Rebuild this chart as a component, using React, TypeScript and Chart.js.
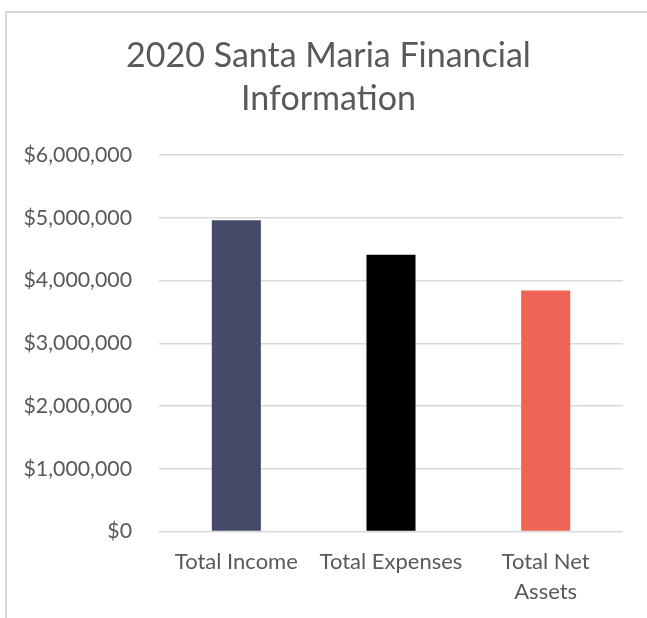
import React, { useEffect, useRef } from "react";
import { Chart, registerables } from "chart.js";

Chart.register(...registerables);

const categories: (string | string[])[] = ["Total Income", "Total Expenses", ["Total Net", "Assets"]];
const values: number[] = [4960000, 4410000, 3840000];
const barColors: string[] = ["#454a68", "#000000", "#f06455"];
const titleLines: string[] = ["2020 Santa Maria Financial", "Information"];
const yMin = 0;
const yMax = 6000000;
const yStep = 1000000;

export default function App() {
  const ref = useRef<HTMLCanvasElement>(null);
  useEffect(() => {
    document.body.style.margin = "0";
    const ctx = ref.current!;
    const chart = new Chart(ctx, {
      type: "bar",
      data: {
        labels: categories,
        datasets: [
          {
            data: values,
            backgroundColor: barColors,
            barPercentage: 0.317,
            categoryPercentage: 1,
            yAxisID: "y",
          },
        ],
      },
      options: {
        responsive: false,
        animation: false,
        layout: { padding: { left: 10, right: 0, top: 0, bottom: 0 } },
        plugins: {
          legend: { display: false },
          tooltip: { enabled: false },
          title: {
            display: true,
            text: titleLines,
            color: "#595959",
            font: { family: "Lato", size: 34, weight: "normal", lineHeight: 43 / 34 },
            padding: { top: 35, bottom: 34 },
          },
        },
        scales: {
          x: {
            grid: { display: false, drawTicks: false },
            border: { display: false },
            ticks: {
              color: "#595959",
              font: { family: "Lato", size: 22, lineHeight: 30 / 22 },
              padding: 15.5,
              maxRotation: 0,
              autoSkip: false,
            },
            afterFit: (s: any) => {
              s.height = 86.5;
            },
          },
          y: {
            min: yMin,
            max: yMax,
            grid: { color: "#d9d9d9", lineWidth: 1.5, drawTicks: false },
            border: { display: false },
            ticks: {
              stepSize: yStep,
              color: "#595959",
              font: { family: "Lato", size: 21.3 },
              padding: 27,
              callback: (v: any) => "$" + Number(v).toLocaleString("en-US"),
            },
            afterFit: (s: any) => {
              s.width = 149;
            },
          },
          yRight: {
            position: "right",
            min: yMin,
            max: yMax,
            grid: { display: false, drawTicks: false },
            border: { display: false },
            ticks: { display: false },
            afterFit: (s: any) => {
              s.width = 24;
            },
          },
        },
      },
    });
    return () => chart.destroy();
  }, []);
  return (
    <div style={{ position: "relative", width: 647, height: 618, overflow: "hidden", background: "#fff" }}>
      <canvas ref={ref} width={647} height={618} style={{ position: "absolute", left: 0, top: 0 }} />
      <div
        style={{
          position: "absolute",
          left: 5,
          top: 11,
          width: 700,
          height: 700,
          borderLeft: "2px solid #d9d9d9",
          borderTop: "2px solid #d9d9d9",
          pointerEvents: "none",
        }}
      />
    </div>
  );
}
